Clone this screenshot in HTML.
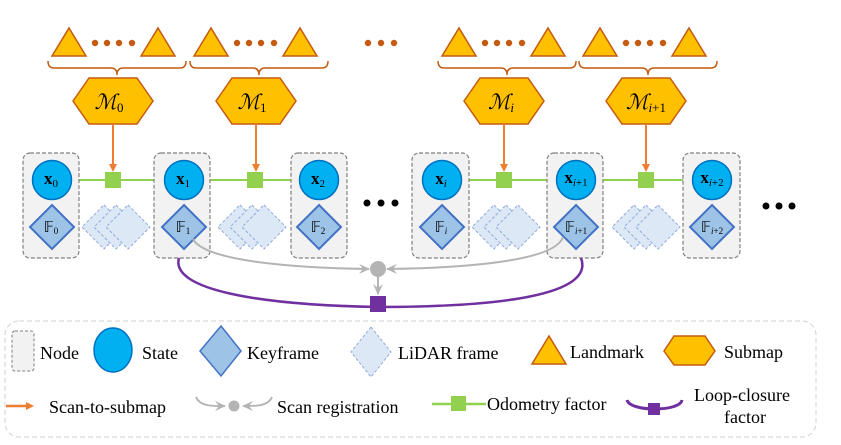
<!DOCTYPE html>
<html><head><meta charset="utf-8"><style>
body{margin:0;background:#fff;}
svg{display:block;}
text{font-family:"Liberation Serif",serif;}
</style></head><body>
<svg width="841" height="445" viewBox="0 0 841 445" xmlns="http://www.w3.org/2000/svg">
<defs>
<marker id="ao" markerWidth="8" markerHeight="8" refX="6" refY="4" orient="auto" markerUnits="userSpaceOnUse"><path d="M0,0 L8,4 L0,8 z" fill="#ed7d31"/></marker>
<marker id="ag" markerWidth="12" markerHeight="10" refX="10" refY="5" orient="auto" markerUnits="userSpaceOnUse"><path d="M0,0 L11,5 L0,10 L4,5 z" fill="#b4b4b4"/></marker>
<g id="tri"><polygon points="0,28 17,0 34,28" fill="#ffc000" stroke="#c55a11" stroke-width="1.5"/></g>
<g id="hex"><polygon points="-40,0 -24,-23 24,-23 40,0 24,23 -24,23" fill="#ffc000" stroke="#c55a11" stroke-width="1.5"/></g>
<g id="lid"><polygon points="0,-22 22,0 0,22 -22,0" fill="#dde8f6" stroke="#8faadc" stroke-width="1" stroke-dasharray="3,2"/></g>
<g id="lid3"><use href="#lid" x="-12"/><use href="#lid" x="0"/><use href="#lid" x="12"/></g>
<g id="lg">
<use href="#tri" x="0" y="28"/>
<circle cx="43" cy="43" r="3.2" fill="#c55a11"/><circle cx="55" cy="43" r="3.2" fill="#c55a11"/><circle cx="67" cy="43" r="3.2" fill="#c55a11"/><circle cx="80" cy="43" r="3.2" fill="#c55a11"/>
<use href="#tri" x="89" y="28"/>
<path d="M-4,61 q0,7 6,7 h57 q6,0 6,7 q0,-7 6,-7 h57 q6,0 6,-7" fill="none" stroke="#c55a11" stroke-width="1.5"/>
</g>
</defs>

<use href="#lg" x="52"/>
<use href="#lg" x="194"/>
<use href="#lg" x="442"/>
<use href="#lg" x="583"/>
<circle cx="368" cy="43" r="3.2" fill="#c55a11"/><circle cx="381" cy="43" r="3.2" fill="#c55a11"/><circle cx="394" cy="43" r="3.2" fill="#c55a11"/>

<use href="#hex" x="113" y="101"/><use href="#hex" x="256" y="101"/><use href="#hex" x="504" y="101"/><use href="#hex" x="646" y="101"/>
<g font-style="italic" font-size="21" text-anchor="middle">
<text x="109" y="109">ℳ<tspan font-size="13" font-style="normal" baseline-shift="-20%">0</tspan></text>
<text x="252" y="109">ℳ<tspan font-size="13" font-style="normal" baseline-shift="-20%">1</tspan></text>
<text x="501" y="109">ℳ<tspan font-size="13" baseline-shift="-20%">i</tspan></text>
<text x="646" y="109">ℳ<tspan font-size="13" baseline-shift="-20%">i<tspan font-style="normal">+1</tspan></tspan></text>
</g>

<line x1="79" y1="180" x2="154" y2="180" stroke="#92d050" stroke-width="2"/>
<line x1="210" y1="180" x2="291" y2="180" stroke="#92d050" stroke-width="2"/>
<line x1="469" y1="180" x2="547" y2="180" stroke="#92d050" stroke-width="2"/>
<line x1="603" y1="180" x2="683" y2="180" stroke="#92d050" stroke-width="2"/>

<g stroke="#ed7d31" stroke-width="2" marker-end="url(#ao)">
<line x1="113" y1="125" x2="113" y2="170"/><line x1="256" y1="125" x2="256" y2="170"/>
<line x1="504" y1="125" x2="504" y2="170"/><line x1="646" y1="125" x2="646" y2="170"/>
</g>
<g fill="#92d050"><rect x="105" y="172" width="16" height="16"/><rect x="247" y="172" width="16" height="16"/><rect x="496" y="172" width="16" height="16"/><rect x="638" y="172" width="16" height="16"/></g>

<g fill="#f2f2f2" stroke="#808080" stroke-width="1.2" stroke-dasharray="4,2">
<rect x="23" y="153" width="56" height="105" rx="7"/>
<rect x="154" y="153" width="56" height="105" rx="7"/>
<rect x="291" y="153" width="56" height="105" rx="7"/>
<rect x="412" y="153" width="57" height="105" rx="7"/>
<rect x="547" y="153" width="56" height="105" rx="7"/>
<rect x="683" y="153" width="57" height="105" rx="7"/>
</g>
<g fill="#00b0f0" stroke="#0070c0" stroke-width="1.5">
<circle cx="52" cy="180" r="19.5"/><circle cx="184" cy="180" r="19.5"/><circle cx="319" cy="180" r="19.5"/>
<circle cx="442" cy="180" r="19.5"/><circle cx="576" cy="180" r="19.5"/><circle cx="712" cy="180" r="19.5"/>
</g>
<g fill="#9dc3e6" stroke="#4472c4" stroke-width="2">
<polygon points="52,205 74,227 52,249 30,227"/><polygon points="184,205 206,227 184,249 162,227"/>
<polygon points="319,205 341,227 319,249 297,227"/><polygon points="442,205 464,227 442,249 420,227"/>
<polygon points="576,205 598,227 576,249 554,227"/><polygon points="712,205 734,227 712,249 690,227"/>
</g>
<use href="#lid3" x="116" y="227"/><use href="#lid3" x="252" y="227"/><use href="#lid3" x="506" y="227"/><use href="#lid3" x="646" y="227"/>

<g font-size="17" font-weight="bold" text-anchor="middle">
<text x="51" y="184">x<tspan font-size="11" font-weight="normal" baseline-shift="-30%">0</tspan></text>
<text x="183" y="184">x<tspan font-size="11" font-weight="normal" baseline-shift="-30%">1</tspan></text>
<text x="318" y="184">x<tspan font-size="11" font-weight="normal" baseline-shift="-30%">2</tspan></text>
<text x="441" y="184">x<tspan font-size="11" font-weight="normal" font-style="italic" baseline-shift="-30%">i</tspan></text>
<text x="576" y="183">x<tspan font-size="11" font-weight="normal" baseline-shift="-30%"><tspan font-style="italic">i</tspan>+1</tspan></text>
<text x="712" y="183">x<tspan font-size="11" font-weight="normal" baseline-shift="-30%"><tspan font-style="italic">i</tspan>+2</tspan></text>
</g>
<g font-size="15" text-anchor="middle">
<text x="51" y="232">𝔽<tspan font-size="9" baseline-shift="-20%">0</tspan></text>
<text x="183" y="232">𝔽<tspan font-size="9" baseline-shift="-20%">1</tspan></text>
<text x="318" y="232">𝔽<tspan font-size="9" baseline-shift="-20%">2</tspan></text>
<text x="441" y="232">𝔽<tspan font-size="9" font-style="italic" baseline-shift="-20%">i</tspan></text>
<text x="576" y="232">𝔽<tspan font-size="9" baseline-shift="-20%"><tspan font-style="italic">i</tspan>+1</tspan></text>
<text x="712" y="232">𝔽<tspan font-size="9" baseline-shift="-20%"><tspan font-style="italic">i</tspan>+2</tspan></text>
</g>

<g fill="#000"><circle cx="367" cy="203" r="3.5"/><circle cx="381" cy="203" r="3.5"/><circle cx="395" cy="203" r="3.5"/>
<circle cx="766" cy="206" r="3.5"/><circle cx="779" cy="206" r="3.5"/><circle cx="792" cy="206" r="3.5"/></g>

<g fill="none" stroke="#b4b4b4" stroke-width="2">
<path d="M193,239 C205,262 300,268 369,269" marker-end="url(#ag)"/>
<path d="M563,237 C555,262 460,268 387,269" marker-end="url(#ag)"/>
<path d="M378,276 L378,294" marker-end="url(#ag)"/>
</g>
<circle cx="378" cy="269" r="8" fill="#b4b4b4"/>
<path d="M179,258 C170,290 260,305 378,307 C500,307 595,295 581,258" fill="none" stroke="#7030a0" stroke-width="2.5"/>
<rect x="370" y="296" width="16" height="16" fill="#7030a0"/>

<rect x="5" y="321" width="811" height="116" rx="14" fill="none" stroke="#d9d9d9" stroke-width="1.2" stroke-dasharray="5,3"/>
<rect x="12" y="331" width="22" height="40" rx="3" fill="#f2f2f2" stroke="#808080" stroke-width="1" stroke-dasharray="3,2"/>
<ellipse cx="113" cy="350" rx="19" ry="22" fill="#00b0f0" stroke="#0070c0" stroke-width="1.5"/>
<polygon points="221,326 241,351 221,376 200,351" fill="#9dc3e6" stroke="#4472c4" stroke-width="1.5"/>
<polygon points="371,327 391,352 371,377 351,352" fill="#dde8f6" stroke="#8faadc" stroke-width="1" stroke-dasharray="3,2"/>
<polygon points="532,364 549,336 566,364" fill="#ffc000" stroke="#c55a11" stroke-width="1.5"/>
<polygon points="664,351 674,336 705,336 715,351 705,365 674,365" fill="#ffc000" stroke="#c55a11" stroke-width="1.5"/>
<g font-size="18" fill="#000">
<text x="40" y="359">Node</text>
<text x="142" y="359">State</text>
<text x="247" y="359">Keyframe</text>
<text x="398" y="359">LiDAR frame</text>
<text x="570" y="358">Landmark</text>
<text x="724" y="358">Submap</text>
<text x="49" y="413">Scan-to-submap</text>
<text x="277" y="413">Scan registration</text>
<text x="487" y="410">Odometry factor</text>
<text x="694" y="401">Loop-closure</text>
<text x="724" y="423">factor</text>
</g>
<line x1="6" y1="406" x2="32" y2="406" stroke="#ed7d31" stroke-width="2.5" marker-end="url(#ao)"/>
<g fill="none" stroke="#b4b4b4" stroke-width="1.8">
<path d="M196,397 C200,407 215,406 225,406" marker-end="url(#ag)"/>
<path d="M272,397 C268,407 253,406 243,406" marker-end="url(#ag)"/>
</g>
<circle cx="234" cy="406" r="5.5" fill="#b4b4b4"/>
<line x1="432" y1="404" x2="486" y2="404" stroke="#92d050" stroke-width="2.5"/>
<rect x="451" y="396" width="15" height="15" fill="#92d050"/>
<path d="M627,400 C630,412 680,412 682,400" fill="none" stroke="#7030a0" stroke-width="3"/>
<rect x="648" y="403" width="12" height="12" fill="#7030a0"/>
</svg>
</body></html>
